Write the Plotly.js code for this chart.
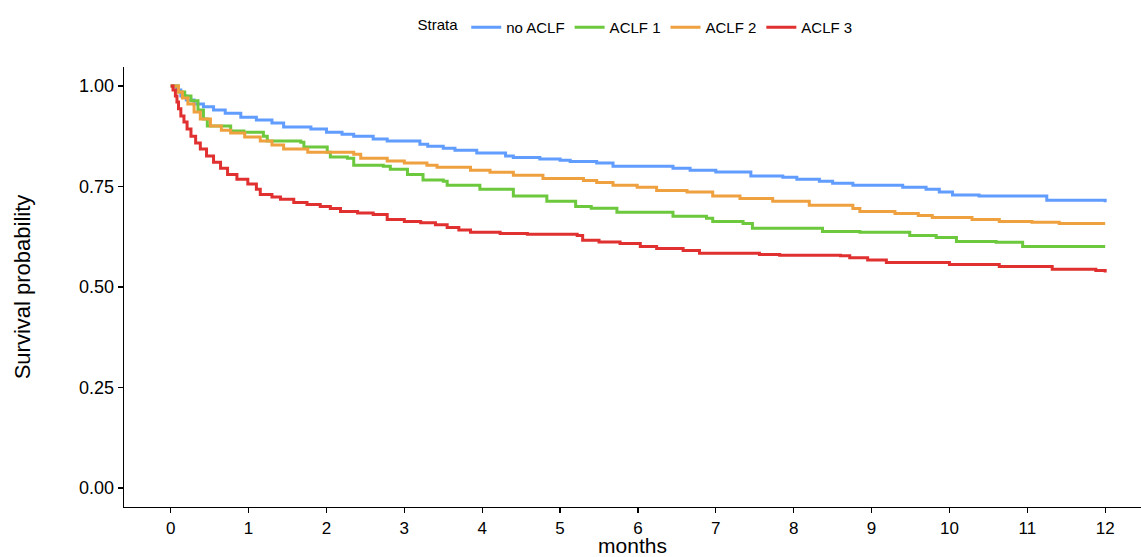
<!DOCTYPE html>
<html>
<head>
<meta charset="utf-8">
<script src="https://cdn.plot.ly/plotly-3.0.1.min.js"></script>
<style>html,body{margin:0;padding:0;background:#fff;}#chart{width:1141px;height:557px;}</style>
</head>
<body>
<div id="chart"></div>
<script>
// Kaplan-Meier step points (months, survival probability)
const noAclfX = [0,0.08,0.13,0.2,0.3,0.42,0.55,0.7,0.9,1.1,1.3,1.45,1.8,2.0,2.2,2.35,2.6,2.78,3.2,3.3,3.5,3.65,3.93,4.3,4.4,4.74,5.0,5.13,5.47,5.68,6.45,6.67,7.0,7.45,7.86,8.04,8.33,8.5,8.76,9.4,9.7,9.87,10.04,10.38,11.25,12];
const noAclfY = [1,0.99,0.975,0.965,0.955,0.948,0.94,0.932,0.922,0.915,0.908,0.898,0.893,0.885,0.88,0.875,0.868,0.863,0.855,0.85,0.845,0.84,0.833,0.826,0.822,0.818,0.815,0.812,0.808,0.80,0.795,0.79,0.786,0.776,0.773,0.768,0.763,0.758,0.753,0.748,0.743,0.736,0.729,0.726,0.716,0.711];

const aclf1X = [0,0.1,0.18,0.26,0.35,0.42,0.47,0.77,0.94,1.19,1.24,1.67,1.71,2.01,2.05,2.27,2.35,2.73,2.82,3.04,3.24,3.5,3.55,3.97,4.4,4.83,5.2,5.4,5.73,6.45,6.88,6.96,7.35,7.47,8.37,8.85,9.49,9.83,10.09,10.6,10.94,12];
const aclf1Y = [1,0.985,0.975,0.963,0.94,0.918,0.90,0.888,0.885,0.875,0.863,0.86,0.848,0.835,0.823,0.82,0.803,0.80,0.793,0.78,0.766,0.763,0.753,0.743,0.726,0.713,0.70,0.696,0.686,0.676,0.671,0.663,0.658,0.646,0.638,0.636,0.628,0.623,0.613,0.611,0.601,0.601];

const aclf2X = [0,0.1,0.15,0.22,0.3,0.38,0.51,0.65,0.77,0.95,1.15,1.3,1.45,1.76,2.35,2.44,2.78,3.0,3.29,3.42,3.85,4.1,4.4,4.78,5.3,5.47,5.68,5.99,6.24,6.63,6.96,7.31,7.73,8.2,8.76,8.85,9.3,9.6,9.78,10.29,10.64,11.06,11.41,12];
const aclf2Y = [1,0.985,0.97,0.955,0.935,0.918,0.90,0.89,0.883,0.873,0.863,0.853,0.843,0.835,0.83,0.82,0.813,0.808,0.803,0.798,0.79,0.785,0.778,0.77,0.765,0.76,0.753,0.748,0.74,0.736,0.726,0.72,0.713,0.703,0.695,0.688,0.683,0.678,0.673,0.668,0.663,0.661,0.658,0.658];

const aclf3X = [0,0.03,0.06,0.08,0.1,0.13,0.17,0.21,0.26,0.32,0.38,0.46,0.55,0.64,0.73,0.85,0.99,1.1,1.15,1.3,1.41,1.58,1.75,1.92,2.05,2.18,2.4,2.6,2.78,3.0,3.21,3.4,3.55,3.7,3.85,4.23,4.58,5.22,5.29,5.5,5.77,6.03,6.24,6.58,6.79,7.56,7.82,8.6,8.72,8.95,9.19,10.0,10.64,11.32,11.88,12];
const aclf3Y = [1,0.99,0.975,0.96,0.943,0.925,0.91,0.893,0.875,0.858,0.843,0.826,0.81,0.795,0.78,0.768,0.756,0.743,0.73,0.724,0.718,0.71,0.705,0.70,0.695,0.688,0.684,0.68,0.668,0.663,0.66,0.655,0.648,0.642,0.636,0.633,0.631,0.628,0.616,0.612,0.608,0.601,0.596,0.591,0.584,0.581,0.579,0.578,0.573,0.567,0.561,0.556,0.551,0.544,0.541,0.536];

const strata = ["no ACLF", "ACLF 1", "ACLF 2", "ACLF 3"];
const colors = ["#619CFF", "#6CC83C", "#EFA03F", "#E0302F"];
const xTicks = [0,1,2,3,4,5,6,7,8,9,10,11,12];
const yTicks = [0, 0.25, 0.5, 0.75, 1];

const seriesX = [noAclfX, aclf1X, aclf2X, aclf3X];
const seriesY = [noAclfY, aclf1Y, aclf2Y, aclf3Y];

const font = "Liberation Sans, Arial, Helvetica, sans-serif";

const traces = strata.map((name, i) => ({
  type: "scatter",
  mode: "lines",
  name: name,
  x: seriesX[i],
  y: seriesY[i],
  line: {shape: "hv", color: colors[i], width: 3}
}));

const layout = {
  width: 1141, height: 557,
  margin: {l: 124, r: 0, t: 67, b: 50, pad: 0},
  paper_bgcolor: "#fff", plot_bgcolor: "#fff",
  font: {family: font, color: "#000"},
  showlegend: true,
  legend: {
    orientation: "h",
    x: 0.504, xanchor: "center",
    y: 1.09, yanchor: "middle",
    font: {family: font, size: 15, color: "#000"},
    title: {text: "Strata", side: "left", font: {family: font, size: 15, color: "#000"}},
    itemwidth: 30,
    traceorder: "normal"
  },
  xaxis: {
    range: [-0.6, 12.46],
    tickvals: xTicks,
    ticktext: xTicks.map(String),
    showgrid: false, zeroline: false,
    showline: true, linecolor: "#000", linewidth: 1.3,
    ticks: "outside", ticklen: 5, tickwidth: 1.3, tickcolor: "#000",
    tickfont: {family: font, size: 17, color: "#000"},
    title: {text: "months", font: {family: font, size: 21, color: "#000"}, standoff: 12},
    automargin: false
  },
  yaxis: {
    range: [-0.047, 1.047],
    tickvals: yTicks,
    ticktext: yTicks.map(v => v.toFixed(2)),
    showgrid: false, zeroline: false,
    showline: true, linecolor: "#000", linewidth: 1.3,
    ticks: "outside", ticklen: 5, tickwidth: 1.3, tickcolor: "#000",
    tickfont: {family: font, size: 18, color: "#000"},
    title: {text: "Survival probability", font: {family: font, size: 22, color: "#000"}, standoff: 42},
    automargin: false
  }
};

Plotly.newPlot("chart", traces, layout, {staticPlot: true, displayModeBar: false});
</script>
</body>
</html>
